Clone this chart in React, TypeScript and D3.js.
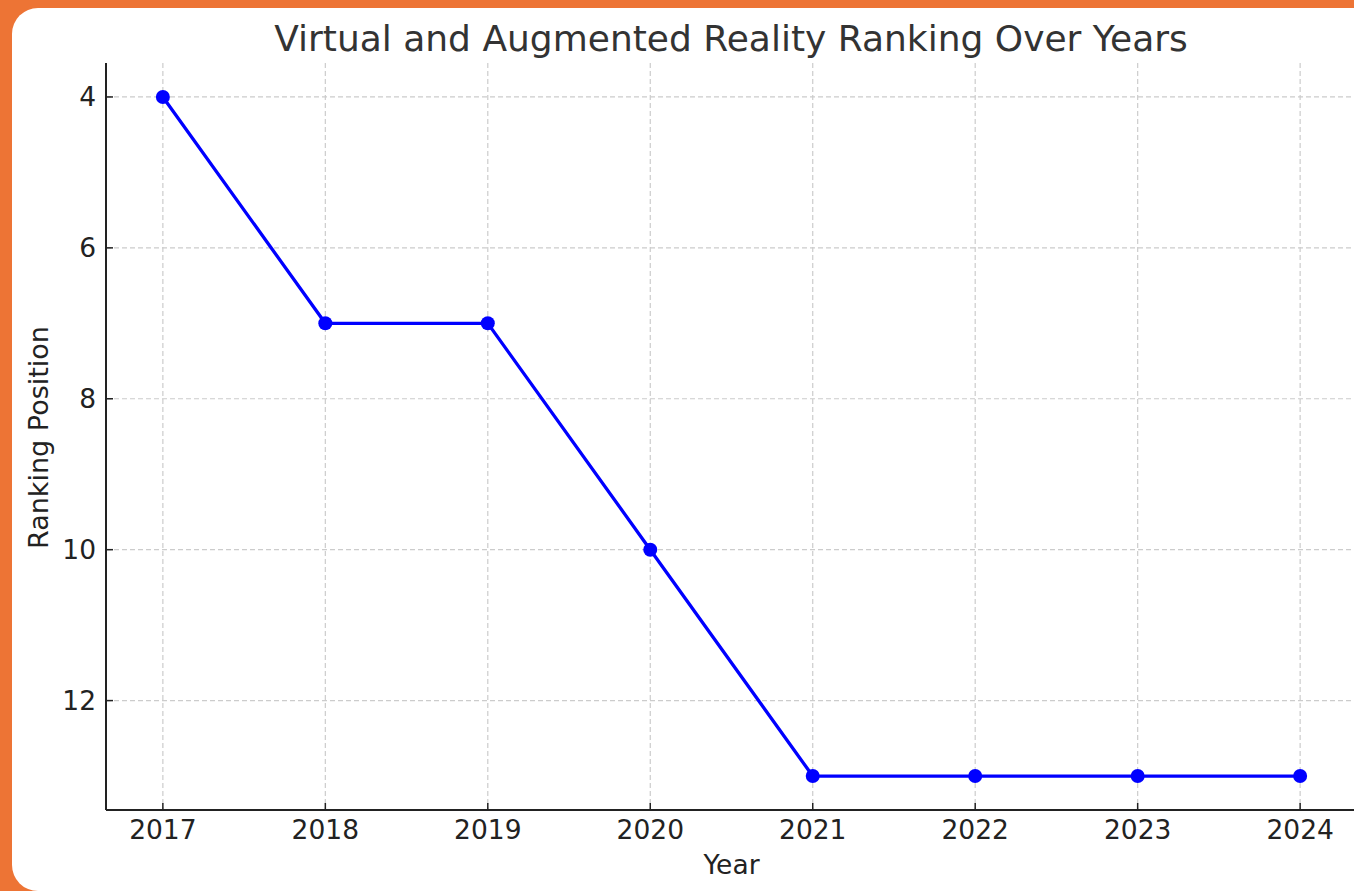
import React from 'react';
import * as d3 from 'd3';

const years = [2017, 2018, 2019, 2020, 2021, 2022, 2023, 2024];
const rankings = [4, 7, 7, 10, 13, 13, 13, 13];
const yTicks = [4, 6, 8, 10, 12];

const W = 1354;
const H = 891;
const margin = { top: 63, right: -3, bottom: 81, left: 106 };
const font = 'DejaVu Sans, sans-serif';

export default function App() {
  const innerW = W - margin.left - margin.right;
  const innerH = H - margin.top - margin.bottom;

  const x = d3.scaleLinear().domain([2016.65, 2024.35]).range([0, innerW]);
  const y = d3.scaleLinear().domain([3.55, 13.45]).range([0, innerH]);

  const line = d3.line<number>()
    .x((d, i) => x(years[i]))
    .y(d => y(d));

  return (
    <svg width={W} height={H} style={{ position: 'absolute', left: 0, top: 0 }}>
      <rect x={0} y={0} width={W} height={H} fill="#ed7435" />
      <rect x={12} y={8} width={1380} height={883} rx={26} fill="#fff" />
      <text x={731} y={51} textAnchor="middle" fontFamily={font} fontSize={36} fill="#333">
        Virtual and Augmented Reality Ranking Over Years
      </text>
      <g transform={`translate(${margin.left},${margin.top})`}>
        {years.map(yr => (
          <line key={'gx' + yr} x1={x(yr)} x2={x(yr)} y1={0} y2={innerH}
            stroke="#ccc" strokeWidth={1.2} strokeDasharray="5,3" />
        ))}
        {yTicks.map(t => (
          <line key={'gy' + t} x1={0} x2={innerW} y1={y(t)} y2={y(t)}
            stroke="#ccc" strokeWidth={1.2} strokeDasharray="5,3" />
        ))}
        <path d={line(rankings) || ''} fill="none" stroke="#0000ff" strokeWidth={3.3} />
        {rankings.map((r, i) => (
          <circle key={i} cx={x(years[i])} cy={y(r)} r={7} fill="#0000ff" />
        ))}
        <line x1={0} x2={0} y1={0} y2={innerH} stroke="#222" strokeWidth={2} />
        <line x1={0} x2={innerW} y1={innerH} y2={innerH} stroke="#222" strokeWidth={2} />
        {years.map(yr => (
          <g key={'tx' + yr} transform={`translate(${x(yr)},${innerH})`}>
            <line y1={0} y2={-7} stroke="#222" strokeWidth={1.5} />
            <text y={29} textAnchor="middle" fontFamily={font} fontSize={26.5} fill="#222">{yr}</text>
          </g>
        ))}
        {yTicks.map(t => (
          <g key={'ty' + t} transform={`translate(0,${y(t)})`}>
            <line x1={0} x2={7} stroke="#222" strokeWidth={1.5} />
            <text x={-10} dy="0.35em" textAnchor="end" fontFamily={font} fontSize={26.5} fill="#222">{t}</text>
          </g>
        ))}
        <text x={x(2020.5)} y={innerH + 64} textAnchor="middle" fontFamily={font} fontSize={26.5} fill="#222">Year</text>
        <text transform={`translate(-58,${innerH / 2 + 1}) rotate(-90)`} textAnchor="middle"
          fontFamily={font} fontSize={27} fill="#222">Ranking Position</text>
      </g>
    </svg>
  );
}
